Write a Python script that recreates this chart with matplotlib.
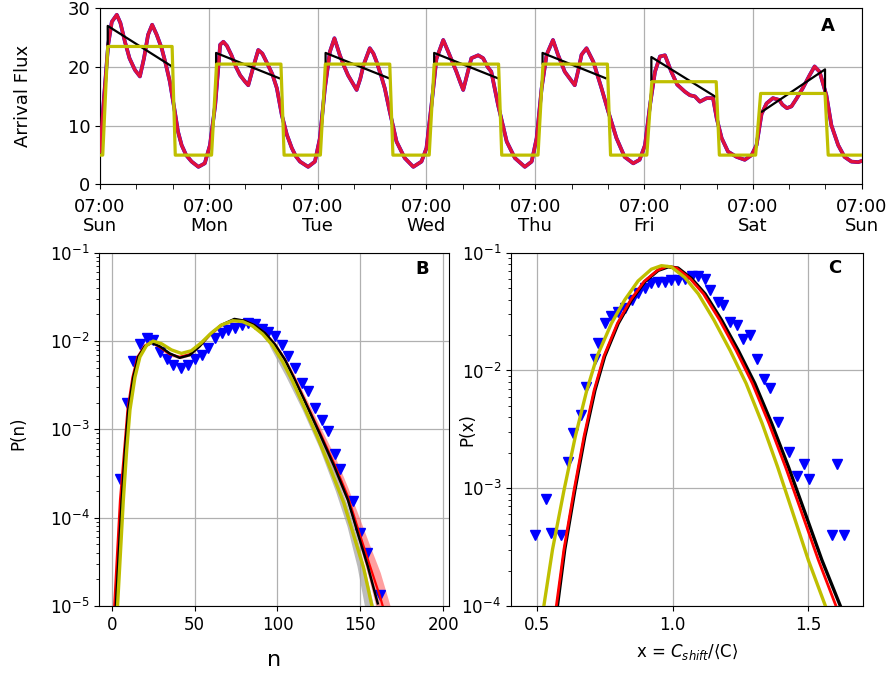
import matplotlib
matplotlib.use("Agg")
import matplotlib.pyplot as plt
import numpy as np

# ---------------- panel A: arrival flux over one week (hours after Sun 07:00)
flux_t = [0.0, 0.9, 1.8, 2.6, 3.7, 4.5, 5.5, 6.5, 7.7, 8.8, 9.7, 10.6, 11.5, 12.5, 13.6, 14.5,
          15.4, 16.5, 17.2, 18.0, 19.0, 20.2, 21.7, 23.1, 24.25,
          25.4, 26.5, 27.2, 28.0, 29.0, 30.0, 30.9, 32.0, 32.7, 33.8, 34.9, 35.8, 36.7, 38.0,
          39.0, 40.1, 41.2, 42.3, 43.2, 44.1, 45.9, 47.4, 48.5,
          49.6, 50.7, 51.7, 52.9, 53.8, 54.7, 56.6, 57.4, 58.1, 59.5, 60.3, 61.0, 62.0, 62.8,
          63.9, 65.4, 67.2, 69.1, 70.9, 72.0,
          73.1, 74.2, 75.7, 76.8, 78.6, 79.4, 80.1, 81.0, 81.9, 83.4, 84.5, 85.5, 86.3, 87.8,
          89.7, 91.5, 93.7, 95.2, 96.3,
          97.4, 98.5, 99.9, 101.0, 102.5, 104.7, 105.5, 106.2, 107.3, 108.8, 110.6, 112.1,
          113.9, 115.7, 117.6, 119.0, 120.2,
          121.3, 122.4, 123.5, 124.6, 126.0, 127.3, 129.0, 130.1, 131.2, 132.3, 133.8, 135.2,
          136.0, 137.1, 138.5, 140.4, 142.2, 143.7,
          144.8, 145.9, 147.0, 148.4, 149.8, 150.5, 151.5, 152.5, 153.6, 155.0, 156.5, 157.6,
          158.7, 160.2, 161.3, 162.8, 164.2, 165.7, 167.2, 168.0]
flux_v = [5.6, 15.0, 23.8, 27.7, 28.9, 27.5, 24.3, 21.5, 19.5, 18.4, 21.5, 25.5, 27.2, 25.5, 23.2, 20.5,
          17.5, 12.4, 9.0, 6.7, 5.0, 3.9, 3.0, 3.6, 6.7,
          13.5, 23.8, 24.3, 23.6, 22.0, 20.0, 18.6, 17.5, 16.9, 20.0, 22.9, 22.3, 20.9, 18.8,
          16.4, 11.8, 8.5, 6.2, 4.8, 3.9, 3.0, 3.9, 7.9,
          16.4, 22.6, 24.9, 22.0, 20.2, 18.6, 16.1, 18.0, 20.3, 23.2, 22.3, 20.9, 18.5, 16.4,
          12.4, 7.3, 4.5, 3.0, 3.9, 6.2,
          13.5, 21.4, 24.6, 22.6, 19.2, 17.5, 16.1, 18.8, 21.5, 22.0, 21.5, 20.0, 19.2, 13.5,
          7.3, 4.5, 3.0, 3.9, 7.9,
          16.4, 22.1, 24.6, 22.1, 19.2, 16.9, 19.5, 22.1, 23.2, 20.9, 16.4, 12.4,
          7.9, 4.7, 3.6, 4.2, 6.7,
          13.5, 19.2, 21.8, 22.0, 19.2, 17.0, 15.8, 15.2, 15.0, 14.1, 14.7, 14.7,
          11.3, 7.9, 5.6, 4.7, 4.2, 5.0,
          6.7, 12.0, 13.8, 14.7, 14.4, 13.6, 13.0, 13.3, 14.6, 16.4, 18.6, 20.1,
          19.2, 15.2, 10.1, 6.7, 4.7, 3.9, 3.8, 4.0]

# daytime mean levels (step model) and night level
day_levels = [23.5, 20.5, 20.5, 20.5, 20.5, 17.5, 15.5]
night_level = 5.0

# linear daytime trend segments
trend_t = [[1.7, 1.7, 15.65], [25.6, 25.6, 39.5], [49.75, 49.75, 63.7], [73.7, 73.7, 87.7],
           [97.6, 97.6, 111.5], [121.6, 121.6, 135.6], [146.0, 159.9, 159.9]]
trend_v = [[23.8, 27.0, 20.2], [20.6, 22.4, 18.1], [20.3, 22.4, 18.1], [20.6, 22.4, 18.1],
           [20.6, 22.4, 18.1], [17.8, 21.7, 15.0], [12.4, 19.6, 15.8]]

day_names = ["Sun", "Mon", "Tue", "Wed", "Thu", "Fri", "Sat", "Sun"]

# ---------------- panel B: P(n)
b_n = [5.0, 9.0, 13.0, 17.1, 21.1, 25.1, 29.1, 33.2, 37.2, 41.8, 46.2, 50.2, 54.3, 58.3,
       62.3, 66.3, 70.4, 74.4, 78.4, 82.4, 86.4, 90.5, 94.5, 98.5, 102.5, 106.5, 110.6,
       114.6, 118.6, 122.6, 126.7, 130.6, 134.7, 137.7, 145.7, 149.8, 153.8, 161.8]
b_logp = [-3.56, -2.70, -2.23, -2.03, -1.96, -1.99, -2.12, -2.20, -2.27, -2.31, -2.27, -2.20,
          -2.16, -2.08, -1.97, -1.91, -1.88, -1.85, -1.82, -1.80, -1.81, -1.86, -1.90, -1.94,
          -2.04, -2.17, -2.31, -2.47, -2.57, -2.76, -2.89, -3.02, -3.28, -3.45, -3.81, -4.17,
          -4.40, -4.88]

blk_n = [2.5, 6.0, 8.0, 10.0, 13.0, 16.0, 20.0, 24.0, 29.0, 35.0, 41.0, 47.0, 53.0, 59.0,
         66.0, 74.0, 80.0, 86.0, 92.5, 98.5, 104.5, 110.5, 116.5, 125.5, 134.5, 142.5,
         148.5, 154.5, 160.5]
blk_logp = [-5.0, -3.80, -3.24, -2.78, -2.41, -2.18, -2.06, -2.02, -2.06, -2.14, -2.19,
            -2.16, -2.06, -1.93, -1.82, -1.75, -1.77, -1.82, -1.91, -2.04, -2.21, -2.44,
            -2.68, -3.05, -3.43, -3.80, -4.18, -4.55, -4.97]

yel_n = [3.5, 7.0, 9.0, 11.0, 14.0, 17.0, 21.0, 25.0, 30.0, 36.0, 42.0, 48.0, 54.0, 60.0,
         66.0, 73.0, 79.0, 85.0, 91.0, 97.0, 103.0, 109.0, 115.0, 124.0, 132.0, 140.0,
         146.0, 152.0, 157.0]
yel_logp = [-5.0, -3.80, -3.24, -2.78, -2.41, -2.18, -2.05, -2.00, -2.03, -2.10, -2.14,
            -2.11, -2.02, -1.91, -1.82, -1.77, -1.78, -1.83, -1.92, -2.05, -2.23, -2.45,
            -2.70, -3.08, -3.45, -3.83, -4.20, -4.57, -5.0]

red_n = [1.5, 5.0, 7.5, 9.5, 12.5, 15.5, 20.0, 24.0, 29.0, 35.0, 41.0, 47.0, 53.0, 59.0,
         66.0, 74.0, 80.0, 86.0, 92.5, 98.5, 104.5, 110.5, 116.5, 125.5, 134.5, 142.5,
         149.0, 155.0, 162.0, 168.0]
red_logp = [-5.0, -3.80, -3.24, -2.78, -2.41, -2.18, -2.05, -2.01, -2.07, -2.15, -2.18,
            -2.15, -2.05, -1.93, -1.82, -1.76, -1.77, -1.82, -1.91, -2.04, -2.21, -2.43,
            -2.67, -3.03, -3.40, -3.76, -4.15, -4.50, -4.90, -5.3]
red_lo = [-5.1, -3.86, -3.30, -2.82, -2.44, -2.20, -2.07, -2.03, -2.09, -2.17, -2.20,
          -2.17, -2.07, -1.95, -1.84, -1.78, -1.79, -1.84, -1.93, -2.07, -2.24, -2.47,
          -2.72, -3.10, -3.50, -3.85, -4.28, -4.68, -5.2, -5.6]
red_hi = [-4.9, -3.74, -3.18, -2.74, -2.38, -2.16, -2.03, -1.99, -2.05, -2.13, -2.16,
          -2.13, -2.03, -1.91, -1.80, -1.74, -1.75, -1.80, -1.89, -2.01, -2.18, -2.39,
          -2.62, -2.96, -3.30, -3.66, -3.98, -4.28, -4.62, -5.0]

gray_n = [95, 105, 115, 125, 135, 142, 148, 153, 158]
gray_lo = [-2.05, -2.40, -2.78, -3.20, -3.70, -4.10, -4.55, -5.05, -5.5]
gray_hi = [-2.00, -2.33, -2.68, -3.06, -3.50, -3.85, -4.22, -4.60, -5.0]

# ---------------- panel C: P(x)
c_x = [0.495, 0.535, 0.553, 0.59, 0.615, 0.634, 0.662, 0.683, 0.714, 0.726, 0.75, 0.775,
       0.80, 0.824, 0.849, 0.873, 0.898, 0.922, 0.947, 0.972, 0.996, 1.02, 1.046, 1.07,
       1.095, 1.12, 1.138, 1.169, 1.187, 1.21, 1.236, 1.26, 1.286, 1.31, 1.335, 1.36,
       1.387, 1.427, 1.458, 1.485, 1.503, 1.587, 1.605, 1.63]
c_logp = [-3.40, -3.09, -3.38, -3.40, -2.78, -2.53, -2.38, -2.14, -1.90, -1.77, -1.60, -1.54,
          -1.50, -1.47, -1.40, -1.34, -1.30, -1.26, -1.245, -1.245, -1.23, -1.23, -1.22,
          -1.20, -1.20, -1.22, -1.32, -1.42, -1.44, -1.59, -1.61, -1.73, -1.70, -1.90,
          -2.07, -2.15, -2.44, -2.69, -2.90, -2.79, -2.92, -3.40, -2.79, -3.40]

cblk_x = [0.576, 0.603, 0.64, 0.677, 0.714, 0.75, 0.80, 0.849, 0.898, 0.947, 0.984, 1.02,
          1.07, 1.12, 1.18, 1.242, 1.303, 1.365, 1.427, 1.488, 1.55, 1.618]
cblk_logp = [-4.0, -3.52, -3.02, -2.56, -2.17, -1.88, -1.60, -1.40, -1.245, -1.15, -1.12,
             -1.13, -1.22, -1.35, -1.57, -1.83, -2.11, -2.45, -2.82, -3.21, -3.61, -4.0]

cred_x = [0.572, 0.60, 0.637, 0.674, 0.711, 0.747, 0.797, 0.846, 0.895, 0.944, 0.98, 1.015,
          1.065, 1.114, 1.173, 1.234, 1.294, 1.355, 1.416, 1.476, 1.537, 1.602]
cred_logp = [-4.0, -3.52, -3.02, -2.56, -2.17, -1.88, -1.60, -1.40, -1.245, -1.15, -1.115,
             -1.13, -1.22, -1.35, -1.57, -1.83, -2.11, -2.45, -2.82, -3.21, -3.61, -4.0]

cyel_x = [0.526, 0.558, 0.60, 0.642, 0.684, 0.722, 0.775, 0.824, 0.873, 0.922, 0.959, 0.995,
          1.045, 1.095, 1.152, 1.212, 1.271, 1.33, 1.387, 1.443, 1.50, 1.563]
cyel_logp = [-4.0, -3.52, -3.02, -2.56, -2.17, -1.88, -1.60, -1.40, -1.24, -1.14, -1.11,
             -1.12, -1.21, -1.35, -1.57, -1.83, -2.11, -2.45, -2.82, -3.21, -3.61, -4.0]

yellow = "#bfbf00"

fig = plt.figure(figsize=(8.93, 6.75), dpi=100)

# ---------- A
axA = fig.add_axes([0.112, 0.7267, 0.853, 0.261])
axA.plot(flux_t, flux_v, color="b", lw=2.7, zorder=2, solid_joinstyle="round")
axA.plot(flux_t, flux_v, color="#e0103c", lw=2.5, zorder=3, solid_joinstyle="round")
for tt, vv in zip(trend_t, trend_v):
    axA.plot(tt, vv, color="k", lw=1.6, zorder=4)
# step model built from the day levels
st, sv = [0.0], [night_level]
for d, lev in enumerate(day_levels):
    h = 24 * d
    st += [h + 0.6, h + 1.7, h + 15.9, h + 16.6]
    sv += [night_level, lev, lev, night_level]
st.append(168.0)
sv.append(night_level)
axA.plot(st, sv, color=yellow, lw=2.3, zorder=5)
axA.set_xlim(0, 168)
axA.set_ylim(0, 30)
axA.set_yticks([0, 10, 20, 30])
axA.set_xticks(np.arange(0, 169, 24))
axA.set_xticklabels(["07:00\n" + d for d in day_names], linespacing=1.05)
axA.set_xticks(np.arange(0, 169, 8), minor=True)
axA.tick_params(labelsize=13)
axA.tick_params(axis="x", which="major", pad=6.5)
axA.tick_params(which="minor", length=3.5)
axA.grid(True, color="#b0b0b0", lw=0.9)
axA.set_ylabel("Arrival Flux", fontsize=13)
axA.yaxis.set_label_coords(-0.089, 0.5)
axA.text(0.956, 0.9, "A", transform=axA.transAxes, fontsize=13, fontweight="bold",
         ha="center", va="center")

# ---------- B
axB = fig.add_axes([0.1112, 0.1022, 0.3916, 0.5234])
axB.fill_between(red_n, 10 ** np.array(red_lo), 10 ** np.array(red_hi),
                 color="#ff6060", alpha=0.6, lw=0, zorder=2)
axB.fill_between(gray_n, 10 ** np.array(gray_lo), 10 ** np.array(gray_hi),
                 color="#a0a0a0", alpha=0.7, lw=0, zorder=2)
axB.plot(b_n, 10 ** np.array(b_logp), "v", color="b", ms=7.5, zorder=3)
axB.plot(red_n, 10 ** np.array(red_logp), color="r", lw=1.6, zorder=4)
axB.plot(blk_n, 10 ** np.array(blk_logp), color="k", lw=1.8, zorder=5)
axB.plot(yel_n, 10 ** np.array(yel_logp), color=yellow, lw=2.4, zorder=6)
axB.set_yscale("log")
axB.set_ylim(1e-5, 1e-1)
axB.set_xlim(-7.5, 203.5)
axB.set_xticks([0, 50, 100, 150, 200])
axB.tick_params(labelsize=12)
axB.grid(True, color="#b0b0b0", lw=0.9)
axB.set_ylabel("P(n)", fontsize=12)
axB.yaxis.set_label_coords(-0.207, 0.49)
axB.set_xlabel("n", fontsize=16, labelpad=12)
axB.text(0.922, 0.953, "B", transform=axB.transAxes, fontsize=13, fontweight="bold",
         ha="center", va="center")

# ---------- C
axC = fig.add_axes([0.5722, 0.1022, 0.3938, 0.5234])
axC.plot(c_x, 10 ** np.array(c_logp), "v", color="b", ms=7.5, zorder=3)
axC.plot(cblk_x, 10 ** np.array(cblk_logp), color="k", lw=2.4, zorder=4)
axC.plot(cred_x, 10 ** np.array(cred_logp), color="r", lw=2.0, zorder=5)
axC.plot(cyel_x, 10 ** np.array(cyel_logp), color=yellow, lw=2.4, zorder=6)
axC.set_yscale("log")
axC.set_ylim(1e-4, 1e-1)
axC.set_xlim(0.405, 1.70)
axC.set_xticks([0.5, 1.0, 1.5])
axC.tick_params(labelsize=12)
axC.grid(True, color="#b0b0b0", lw=0.9)
axC.set_ylabel("P(x)", fontsize=12)
axC.yaxis.set_label_coords(-0.097, 0.5)
axC.set_xlabel(r"x = $C_{shift}$/$\langle$C$\rangle$", fontsize=12, labelpad=6)
axC.text(0.921, 0.956, "C", transform=axC.transAxes, fontsize=13, fontweight="bold",
         ha="center", va="center")

fig.savefig("out.png", dpi=100)
